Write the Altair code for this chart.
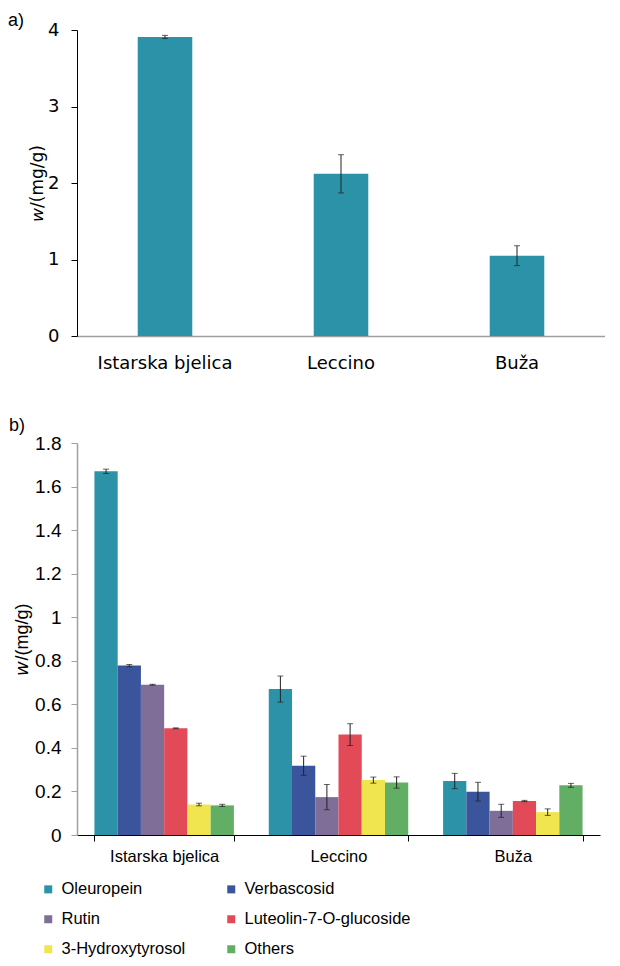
import altair as alt
import pandas as pd

cultivars = ["Istarska bjelica", "Leccino", "Buža"]
total_mean = [3.91, 2.12, 1.05]
total_sd = [0.02, 0.25, 0.13]

compounds = ["Oleuropein", "Verbascosid", "Rutin", "Luteolin-7-O-glucoside",
             "3-Hydroxytyrosol", "Others"]
compound_colors = ["#2B92A7", "#3B559D", "#7F6E97", "#E34A58", "#F1E54F", "#63AE65"]

oleuropein_mean = [1.67, 0.67, 0.248]
oleuropein_sd = [0.01, 0.06, 0.035]
verbascosid_mean = [0.778, 0.318, 0.199]
verbascosid_sd = [0.005, 0.044, 0.043]
rutin_mean = [0.69, 0.174, 0.111]
rutin_sd = [0.002, 0.058, 0.03]
luteolin_mean = [0.49, 0.461, 0.156]
luteolin_sd = [0.002, 0.05, 0.003]
hydroxytyrosol_mean = [0.14, 0.252, 0.105]
hydroxytyrosol_sd = [0.006, 0.014, 0.015]
others_mean = [0.136, 0.241, 0.228]
others_sd = [0.005, 0.026, 0.009]

y_ticks_a = [0, 1, 2, 3, 4]
y_ticks_b = [0, 0.2, 0.4, 0.6, 0.8, 1, 1.2, 1.4, 1.6, 1.8]

FONT_A = "DejaVu Sans"
FONT = "Liberation Sans"
Y_TITLE = "\U0001D638/(mg/g)"

# ---- data tables ----
df_a = pd.DataFrame({
    "cultivar": cultivars,
    "mean": total_mean,
    "lo": [m - s for m, s in zip(total_mean, total_sd)],
    "hi": [m + s for m, s in zip(total_mean, total_sd)],
})

means = [oleuropein_mean, verbascosid_mean, rutin_mean, luteolin_mean,
         hydroxytyrosol_mean, others_mean]
sds = [oleuropein_sd, verbascosid_sd, rutin_sd, luteolin_sd,
       hydroxytyrosol_sd, others_sd]
rows = []
for comp, mvals, svals in zip(compounds, means, sds):
    for cult, m, s in zip(cultivars, mvals, svals):
        rows.append({"cultivar": cult, "compound": comp, "mean": m,
                     "lo": m - s, "hi": m + s})
df_b = pd.DataFrame(rows)

# ---- chart a ----
def xa():
    return alt.X("cultivar:N", sort=cultivars, title=None,
                 scale=alt.Scale(paddingInner=0.69, paddingOuter=0.345),
                 axis=alt.Axis(labelAngle=0, labelFont=FONT_A, labelFontSize=18,
                               labelColor="black", labelPadding=18, ticks=False,
                               domainColor="#A0A0A0", domainWidth=1.5, grid=False))

def ya(field):
    return alt.Y(field, title=Y_TITLE,
                 scale=alt.Scale(domain=[0, 4], nice=False),
                 axis=alt.Axis(values=y_ticks_a, format="d", labelFont=FONT_A,
                               labelFontSize=18, labelColor="black",
                               tickColor="black", tickSize=6, labelPadding=12,
                               domainColor="black", grid=False,
                               titleFont=FONT_A, titleFontSize=17,
                               titleFontWeight="normal", titleColor="black",
                               titlePadding=1))

bars_a = alt.Chart(df_a).mark_bar(color="#2B92A7").encode(x=xa(), y=ya("mean:Q"))
rule_a = alt.Chart(df_a).mark_rule(color="#222222", strokeWidth=1).encode(
    x=xa(), y=ya("lo:Q"), y2="hi:Q")
cap_lo_a = alt.Chart(df_a).mark_tick(color="#222222", thickness=1, size=6).encode(
    x=xa(), y=ya("lo:Q"))
cap_hi_a = alt.Chart(df_a).mark_tick(color="#222222", thickness=1, size=6).encode(
    x=xa(), y=ya("hi:Q"))

chart_a = alt.layer(bars_a, rule_a, cap_lo_a, cap_hi_a).properties(
    width=528, height=306,
    title=alt.TitleParams("a)", anchor="start", frame="group", dx=-69,
                          font=FONT, fontSize=18, fontWeight="normal",
                          color="black", baseline="alphabetic", offset=-23))

# ---- chart b ----
def xb():
    return alt.X("cultivar:N", sort=cultivars, title=None,
                 scale=alt.Scale(paddingInner=0.2, paddingOuter=0.1),
                 axis=alt.Axis(labelAngle=0, tickBand="extent", ticks=True,
                               tickColor="black", tickSize=6, domainColor="black",
                               labelFont=FONT, labelFontSize=16.5,
                               labelColor="black", labelPadding=7, grid=False))

def xob():
    return alt.XOffset("compound:N", sort=compounds,
                       scale=alt.Scale(domain=compounds, paddingInner=0, paddingOuter=0))

def yb(field):
    return alt.Y(field, title=Y_TITLE,
                 scale=alt.Scale(domain=[0, 1.8], nice=False),
                 axis=alt.Axis(values=y_ticks_b, format="~g", labelFont=FONT,
                               labelFontSize=19, labelColor="black",
                               tickColor="#A0A0A0", tickSize=6, labelPadding=10,
                               domainColor="#A0A0A0", domainWidth=1.5, grid=False,
                               titleFont=FONT, titleFontSize=18,
                               titleFontWeight="normal", titleColor="black",
                               titlePadding=3))

bars_b = alt.Chart(df_b).mark_bar().encode(
    x=xb(), xOffset=xob(), y=yb("mean:Q"),
    color=alt.Color("compound:N", sort=compounds,
                    scale=alt.Scale(domain=compounds, range=compound_colors),
                    legend=alt.Legend(title=None, orient="none", legendX=-37,
                                      legendY=851, columns=2, direction="horizontal",
                                      symbolType="square",
                                      symbolSize=64, symbolStrokeWidth=0,
                                      labelFont=FONT, labelFontSize=16.5,
                                      labelColor="black", labelOffset=5,
                                      columnPadding=37, rowPadding=13,
                                      padding=0, labelLimit=300)))
rule_b = alt.Chart(df_b).mark_rule(color="#222222", strokeWidth=1).encode(
    x=xb(), xOffset=xob(), y=yb("lo:Q"), y2="hi:Q")
cap_lo_b = alt.Chart(df_b).mark_tick(color="#222222", thickness=1, size=6).encode(
    x=xb(), xOffset=xob(), y=yb("lo:Q"))
cap_hi_b = alt.Chart(df_b).mark_tick(color="#222222", thickness=1, size=6).encode(
    x=xb(), xOffset=xob(), y=yb("hi:Q"))

chart_b = alt.layer(bars_b, rule_b, cap_lo_b, cap_hi_b).properties(
    width=523, height=392,
    title=alt.TitleParams("b)", anchor="start", frame="group", dx=-68,
                          font=FONT, fontSize=18, fontWeight="normal",
                          color="black", baseline="alphabetic", offset=-15))

chart = alt.vconcat(chart_a, chart_b, spacing=45).properties(
    padding={"left": 0, "top": 4, "right": 0, "bottom": 0}
).configure(background="white", view=alt.ViewConfig(strokeWidth=0))

chart.save("out.html", embed_options={"renderer": "svg", "actions": False})
